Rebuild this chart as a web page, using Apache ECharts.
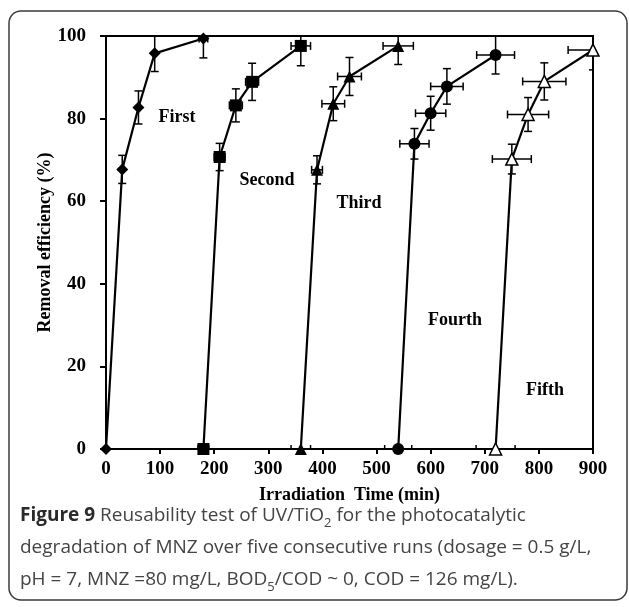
<!DOCTYPE html>
<html>
<head>
<meta charset="utf-8">
<script src="https://cdn.jsdelivr.net/npm/echarts@6/dist/echarts.min.js"></script>
<style>
  html, body { margin: 0; padding: 0; background: #fff; }
  #chart { width: 629px; height: 607px; }
</style>
</head>
<body>
<div id="chart"></div>
<script>
// Irradiation time (min) and removal efficiency (%) for each of the five runs,
// with standard deviations in efficiency (yErr) and in time (xErr).
const runNames = ['First', 'Second', 'Third', 'Fourth', 'Fifth'];

const time1 = [0, 30, 60, 90, 180];
const eff1  = [0, 67.7, 82.7, 95.8, 99.4];
const yErr1 = [0, 3.4, 4.0, 4.4, 4.7];
const xErr1 = [0, 0, 0, 0, 8];

const time2 = [180, 210, 240, 270, 360];
const eff2  = [0, 70.7, 83.2, 88.9, 97.6];
const yErr2 = [0, 3.3, 4.0, 4.5, 4.8];
const xErr2 = [10, 10, 12, 12, 18];

const time3 = [360, 390, 420, 450, 540];
const eff3  = [0, 67.6, 83.6, 90.2, 97.6];
const yErr3 = [0, 3.4, 4.1, 4.6, 4.5];
const xErr3 = [18, 10, 21, 22, 28];

const time4 = [540, 570, 600, 630, 720];
const eff4  = [0, 73.9, 81.3, 87.8, 95.4];
const yErr4 = [0, 3.7, 4.1, 4.3, 4.6];
const xErr4 = [25, 27, 28, 30, 35];

const time5 = [720, 750, 780, 810, 900];
const eff5  = [0, 70.2, 81.0, 89.0, 96.6];
const yErr5 = [0, 3.6, 4.1, 4.5, 4.8];
const xErr5 = [36, 36, 38, 40, 46];

const xTicks = [0, 100, 200, 300, 400, 500, 600, 700, 800, 900];
const yTicks = [0, 20, 40, 60, 80, 100];

const runs = [
  { t: time1, e: eff1, ye: yErr1, xe: xErr1, symbol: 'diamond', size: 12, fill: '#000' },
  { t: time2, e: eff2, ye: yErr2, xe: xErr2, symbol: 'rect', size: 12, fill: '#000' },
  { t: time3, e: eff3, ye: yErr3, xe: xErr3, symbol: 'triangle', size: 12, fill: '#000' },
  { t: time4, e: eff4, ye: yErr4, xe: xErr4, symbol: 'circle', size: 12, fill: '#000' },
  { t: time5, e: eff5, ye: yErr5, xe: xErr5, symbol: 'triangle', size: 12, fill: '#fff' }
];

const serif = '"Liberation Serif", "Times New Roman", serif';
const sans = '"Open Sans", "Noto Sans", sans-serif';

const chart = echarts.init(document.getElementById('chart'));

// error bars: vertical and horizontal whiskers with caps
function errorBarSeries(run, idx) {
  const rows = run.t.map((t, i) => [t, run.e[i], run.ye[i], run.xe[i]]);
  return {
    type: 'custom',
    name: runNames[idx] + ' error',
    clip: true,
    z: 3,
    data: rows,
    renderItem: function (params, api) {
      const x = api.value(0), y = api.value(1), dy = api.value(2), dx = api.value(3);
      const children = [];
      const cap = 4;
      const style = { stroke: '#000', lineWidth: 1.5, fill: null };
      if (dy > 0) {
        const top = api.coord([x, y + dy]);
        const bot = api.coord([x, y - dy]);
        children.push({ type: 'line', shape: { x1: top[0], y1: top[1], x2: bot[0], y2: bot[1] }, style: style });
        children.push({ type: 'line', shape: { x1: top[0] - cap, y1: top[1], x2: top[0] + cap, y2: top[1] }, style: style });
        children.push({ type: 'line', shape: { x1: bot[0] - cap, y1: bot[1], x2: bot[0] + cap, y2: bot[1] }, style: style });
      }
      if (dx > 0) {
        const l = api.coord([x - dx, y]);
        const r = api.coord([x + dx, y]);
        children.push({ type: 'line', shape: { x1: l[0], y1: l[1], x2: r[0], y2: r[1] }, style: style });
        children.push({ type: 'line', shape: { x1: l[0], y1: l[1] - cap, x2: l[0], y2: l[1] + cap }, style: style });
        children.push({ type: 'line', shape: { x1: r[0], y1: r[1] - cap, x2: r[0], y2: r[1] + cap }, style: style });
      }
      return { type: 'group', children: children };
    }
  };
}

function lineSeries(run, idx) {
  return {
    type: 'line',
    name: runNames[idx],
    data: run.t.map((t, i) => [t, run.e[i]]),
    symbol: run.symbol,
    symbolSize: run.size,
    showAllSymbol: true,
    clip: false,
    z: 4,
    lineStyle: { color: '#000', width: 2.2 },
    itemStyle: { color: run.fill, borderColor: '#000', borderWidth: run.fill === '#fff' ? 1.5 : 0 },
    emphasis: { disabled: true },
    animation: false
  };
}

const series = [];
runs.forEach((r, i) => series.push(errorBarSeries(r, i)));
runs.forEach((r, i) => series.push(lineSeries(r, i)));

const labelFont = { fontFamily: serif, fontWeight: 'bold', fontSize: 18, fill: '#000' };
const runLabels = [
  { text: 'First',  x: 177, y: 117 },
  { text: 'Second', x: 267, y: 180 },
  { text: 'Third',  x: 359, y: 203 },
  { text: 'Fourth', x: 455, y: 320 },
  { text: 'Fifth',  x: 545, y: 390 }
];

const option = {
  animation: false,
  backgroundColor: '#fff',
  grid: {
    left: 106, top: 36, width: 487, height: 413,
    show: true, borderColor: '#000', borderWidth: 2, backgroundColor: 'transparent'
  },
  xAxis: {
    type: 'value', min: 0, max: 900, interval: 100,
    name: 'Irradiation  Time (min)',
    nameLocation: 'middle', nameGap: 37, nameMoveOverlap: false,
    nameTextStyle: { fontFamily: serif, fontWeight: 'bold', fontSize: 18, color: '#000' },
    axisLine: { show: true, lineStyle: { color: '#000', width: 2 } },
    axisTick: { show: true, inside: false, length: 5, lineStyle: { color: '#000', width: 2 } },
    axisLabel: {
      margin: 11, fontFamily: serif, fontWeight: 'bold', fontSize: 19, color: '#000',
      formatter: v => xTicks.includes(v) ? String(v) : ''
    },
    splitLine: { show: false }
  },
  yAxis: {
    type: 'value', min: 0, max: 100, interval: 20,
    name: 'Removal efficiency (%)',
    nameLocation: 'middle', nameGap: 52, nameMoveOverlap: false,
    nameTextStyle: { fontFamily: serif, fontWeight: 'bold', fontSize: 18, color: '#000' },
    axisLine: { show: true, lineStyle: { color: '#000', width: 2 } },
    axisTick: { show: true, inside: false, length: 6, lineStyle: { color: '#000', width: 2 } },
    axisLabel: {
      margin: 20, fontFamily: serif, fontWeight: 'bold', fontSize: 19, color: '#000',
      formatter: v => yTicks.includes(v) ? String(v) : ''
    },
    splitLine: { show: false }
  },
  series: series,
  graphic: [
    // figure frame
    {
      type: 'rect', silent: true, z: -1,
      shape: { x: 9, y: 11, width: 618, height: 589, r: 12 },
      style: { fill: 'none', stroke: '#3a3a3a', lineWidth: 1.5 }
    },
    ...runLabels.map(l => ({
      type: 'text', silent: true, x: l.x, y: l.y,
      style: Object.assign({ text: l.text, align: 'center', verticalAlign: 'middle' }, labelFont)
    })),
    // caption
    {
      type: 'text', silent: true, x: 20, y: 500,
      style: {
        text: '{b|Figure 9} Reusability test of UV/TiO{s|2} for the photocatalytic\n' +
              'degradation of MNZ over five consecutive runs (dosage = 0.5 g/L,\n' +
              'pH = 7, MNZ =80 mg/L, BOD{s|5}/COD ~ 0, COD = 126 mg/L).',
        fontFamily: sans, fontSize: 19, fill: '#444', lineHeight: 32,
        rich: {
          b: { fontFamily: sans, fontSize: 19, fontWeight: 'bold', fill: '#2a2a2a', lineHeight: 32 },
          s: { fontFamily: sans, fontSize: 13, fill: '#444', lineHeight: 32, verticalAlign: 'bottom', padding: [0, 0, 2, 0] }
        }
      }
    }
  ]
};

chart.setOption(option);
</script>
</body>
</html>
